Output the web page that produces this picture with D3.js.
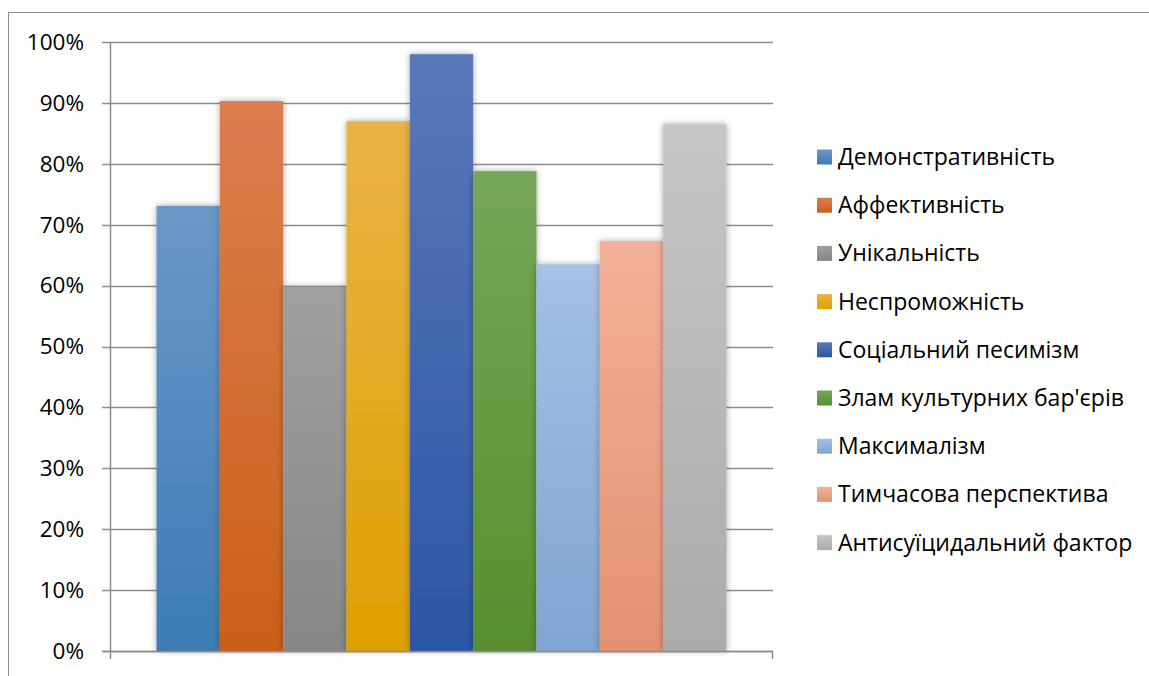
<!DOCTYPE html>
<html>
<head>
<meta charset="utf-8">
<script src="https://cdn.jsdelivr.net/npm/d3@7"></script>
<style>
  body { margin: 0; background: #fff; }
  text { font-family: "Open Sans", "Noto Sans", sans-serif; fill: #000; }
</style>
</head>
<body>
<script>
// data
const seriesNames = [
  "Демонстративність", "Аффективність", "Унікальність", "Неспроможність",
  "Соціальний песимізм", "Злам культурних бар'єрів", "Максималізм",
  "Тимчасова перспектива", "Антисуїцидальний фактор"
];
const seriesValues = [0.731, 0.903, 0.598, 0.870, 0.980, 0.788, 0.635, 0.673, 0.865];
const topColors = ["#6a98c8", "#db7e50", "#a0a0a0", "#e9b446", "#5a78b8", "#76a657", "#a5c1e4", "#f2b198", "#c6c6c6"];
const bottomColors = ["#3e7bb4", "#cb5f18", "#868686", "#dda000", "#2b56a4", "#568f30", "#80a5d2", "#e39272", "#ababab"];
const yTicks = [0, 0.1, 0.2, 0.3, 0.4, 0.5, 0.6, 0.7, 0.8, 0.9, 1.0];

const W = 1149, H = 676;
const plot = { left: 110, right: 773, top: 42, bottom: 651 };

const svg = d3.select("body").append("svg")
  .attr("width", W)
  .attr("height", H);

const defs = svg.append("defs");
seriesNames.forEach((s, i) => {
  const g = defs.append("linearGradient")
    .attr("id", `grad${i}`)
    .attr("x1", 0).attr("y1", 0).attr("x2", 0).attr("y2", 1);
  g.append("stop").attr("offset", "0%").attr("stop-color", topColors[i]);
  g.append("stop").attr("offset", "100%").attr("stop-color", bottomColors[i]);
});
const shadow = defs.append("filter").attr("id", "shadow")
  .attr("x", "-20%").attr("y", "-10%").attr("width", "140%").attr("height", "120%");
shadow.append("feDropShadow")
  .attr("dx", 0).attr("dy", 0).attr("stdDeviation", 3)
  .attr("flood-color", "#000").attr("flood-opacity", 0.35);

// outer frame (only top and left edges are inside the picture)
svg.append("rect")
  .attr("x", 8.5).attr("y", 12.5)
  .attr("width", W + 20).attr("height", H + 20)
  .attr("fill", "none").attr("stroke", "#8c8c8c").attr("stroke-width", 1);

const y = d3.scaleLinear().domain([0, 1]).range([plot.bottom, plot.top]);
const x0 = d3.scaleBand().domain(["all"]).range([plot.left, plot.right]).paddingOuter(0.0816);
const x1 = d3.scaleBand().domain(seriesNames).range([x0("all"), x0("all") + x0.bandwidth()]);

// gridlines
svg.append("g")
  .selectAll("line")
  .data(yTicks)
  .join("line")
  .attr("x1", plot.left - 8).attr("x2", plot.right)
  .attr("y1", d => Math.round(y(d)) + 0.5).attr("y2", d => Math.round(y(d)) + 0.5)
  .attr("stroke", "#8c8c8c").attr("stroke-width", 1.5);

// y labels
svg.append("g")
  .selectAll("text")
  .data(yTicks)
  .join("text")
  .attr("x", 84)
  .attr("y", d => y(d))
  .attr("dy", "0.35em")
  .attr("text-anchor", "end")
  .style("font-size", "22.5px")
  .text(d => d3.format(".0%")(d));

// bars
svg.append("g")
  .selectAll("rect")
  .data(seriesValues)
  .join("rect")
  .attr("x", (d, i) => x1(seriesNames[i]))
  .attr("width", x1.bandwidth())
  .attr("y", d => y(d))
  .attr("height", d => y(0) - y(d))
  .attr("fill", (d, i) => `url(#grad${i})`)
  .attr("filter", "url(#shadow)");

// axes lines
svg.append("line")
  .attr("x1", plot.left + 0.5).attr("x2", plot.left + 0.5)
  .attr("y1", plot.top).attr("y2", plot.bottom + 8)
  .attr("stroke", "#8c8c8c").attr("stroke-width", 1.5);
svg.append("line")
  .attr("x1", plot.left - 8).attr("x2", plot.right)
  .attr("y1", plot.bottom + 0.5).attr("y2", plot.bottom + 0.5)
  .attr("stroke", "#8c8c8c").attr("stroke-width", 1.5);
svg.append("line")
  .attr("x1", plot.right - 0.5).attr("x2", plot.right - 0.5)
  .attr("y1", plot.bottom).attr("y2", plot.bottom + 8)
  .attr("stroke", "#8c8c8c").attr("stroke-width", 1.5);

// legend
const legend = svg.append("g")
  .selectAll("g")
  .data(seriesNames)
  .join("g")
  .attr("transform", (d, i) => `translate(817, ${157 + i * 48.2})`);
legend.append("rect")
  .attr("x", 0).attr("y", -7.5)
  .attr("width", 15).attr("height", 15)
  .attr("fill", (d, i) => `url(#grad${i})`);
legend.append("text")
  .attr("x", 21).attr("y", 0).attr("dy", "0.35em")
  .style("font-size", "23px")
  .text(d => d);
</script>
</body>
</html>
